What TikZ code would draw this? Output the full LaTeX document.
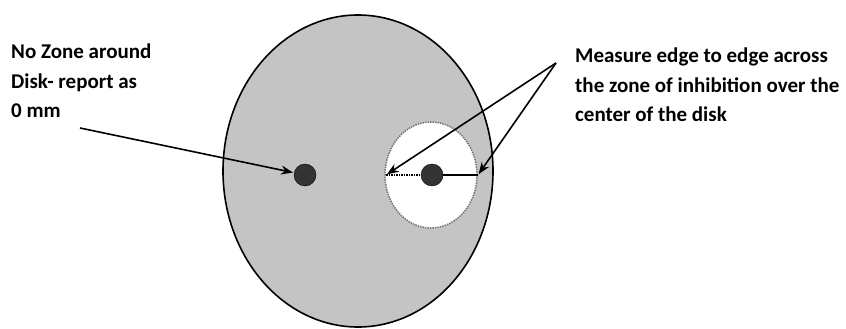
\documentclass[tikz,border=0pt]{standalone}
\usepackage{fontspec}
\setmainfont{Carlito}
\usetikzlibrary{arrows.meta}
\begin{document}
\begin{tikzpicture}[x=1pt, y=-1pt]
	\useasboundingbox (0,0) rectangle (846,329);
	\tikzset{
		label/.style={font=\fontsize{21}{29.5}\selectfont\bfseries, align=left, anchor=north west, inner sep=0pt},
		disk/.style={circle, fill=black!80, draw=black, minimum width=20pt, minimum height=22pt, inner sep=0pt},
		pointer/.style={-{Stealth[length=12pt, width=9pt]}, line width=1.6pt, shorten >=1pt}
	}

	% Plaque (grande ellipse grise)
	\draw[line width=1.6pt, fill=black!23] (358,171) ellipse (135 and 156);

	% Zone d'inhibition
	\draw[densely dotted, line width=1.5pt, draw=black!55, fill=white] (431,175) ellipse (46 and 53);

	% Points clés
	\coordinate (ZL) at (386,175); % bord gauche de la zone
	\coordinate (ZR) at (478,175); % bord droit de la zone
	\coordinate (tailL) at (80,128);
	\coordinate (tailR) at (556,63);

	% Disques
	\node[disk] (D1) at (305,175) {};
	\node[disk] (D2) at (432,175) {};

	% Diamètre de la zone
	\draw[densely dotted, line width=1.5pt] (ZL) -- (D2);
	\draw[line width=1.1pt] (D2) -- (ZR);

	% Étiquettes
	\node[label] (nozone) at (11,44) {No Zone around\\Disk- report as\\0 mm};
	\node[label] (measure) at (575,48) {Measure edge to edge across\\the zone of inhibition over the\\center of the disk};

	% Flèches
	\draw[pointer] (tailL) -- (D1);
	\draw[pointer] (tailR) -- (ZL);
	\draw[pointer] (tailR) -- (ZR);

\end{tikzpicture}
\end{document}
